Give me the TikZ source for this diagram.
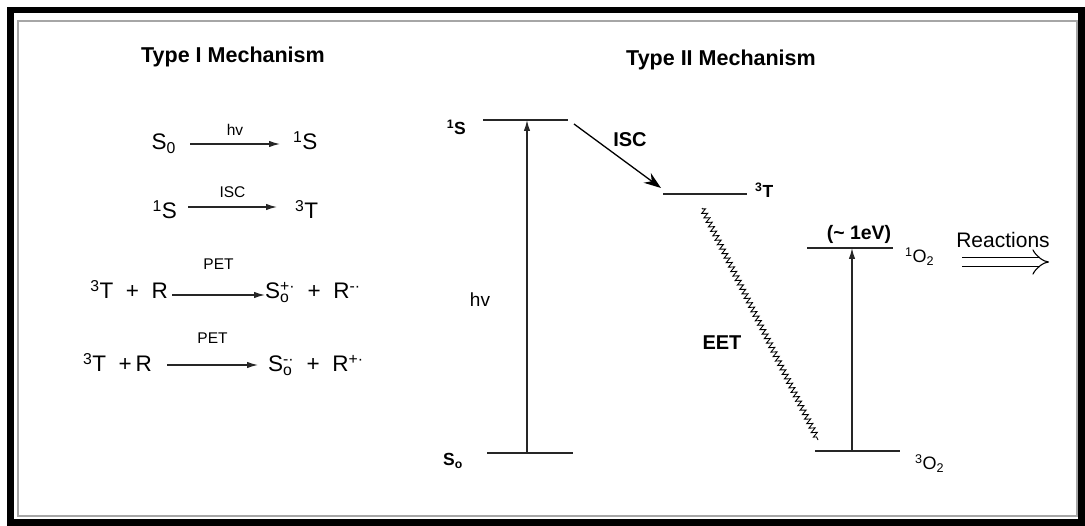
\documentclass[tikz,border=0pt]{standalone}
\usepackage{fontspec}
\setmainfont{Liberation Sans}
\usetikzlibrary{arrows.meta,decorations.pathmorphing}
\begin{document}
\begin{tikzpicture}[x=1pt,y=-1pt,
  title/.style={font=\fontsize{21.5}{24}\selectfont\bfseries, inner sep=0},
  eq/.style={font=\fontsize{22.5}{26}\selectfont, inner sep=0},
  lbl/.style={font=\fontsize{15.5}{17}\selectfont, inner sep=0},
  lvlab/.style={font=\fontsize{17.5}{20}\selectfont\bfseries, inner sep=0},
  lvlabn/.style={font=\fontsize{18}{20}\selectfont, inner sep=0},
  lvl/.style={line width=1.2, draw=black!85},
  arr/.style={line width=1.3, draw=black!85, -{Latex[length=11,width=6.5]}},
  bigarr/.style={line width=1.3, draw=black, -{Stealth[length=17,width=12]}},
  bl/.style={font=\fontsize{20}{22}\selectfont\bfseries, inner sep=0}
]
\useasboundingbox (0,0) rectangle (1085,526);
% frame
\draw[line width=6.5] (10.5,10) rectangle (1081.5,522.5);
\draw[gray!70, line width=1.5] (18,21) rectangle (1077,516);

% titles
\node[title] (t1) at (233,57) {Type I Mechanism};
\node[title] (t2) at (721,60) {Type II Mechanism};

% ---- Type I equations
\node[eq, anchor=base east] (r1l) at (176,150) {S\textsubscript{0}};
\node[eq, anchor=base west] (r1r) at (293,150) {\textsuperscript{1}S};
\draw[arr] ([shift={(14,-6)}]r1l.base east) -- node[lbl, above=8pt] (l1) {hv} ([shift={(-13,-6)}]r1r.base west);

\node[eq, anchor=base east] (r2l) at (177,219) {\textsuperscript{1}S};
\node[eq, anchor=base west] (r2r) at (295,219) {\textsuperscript{3}T};
\draw[arr] ([shift={(11,-12)}]r2l.base east) -- node[lbl, above=9pt] (l2) {ISC} ([shift={(-18,-12)}]r2r.base west);

\node[eq, anchor=base east] (r3l) at (168,299) {\textsuperscript{3}T\ \ +\ \ R};
\node[eq, anchor=base west] (r3r) at (265,299) {S\rlap{\textsubscript{o}}\textsuperscript{+·}\ \ +\ \ R\textsuperscript{-·}};
\draw[arr] ([shift={(4,-4)}]r3l.base east) -- node[lbl, above=25pt] (l3) {PET} ([shift={(0,-4)}]r3r.base west);

\node[eq, anchor=base east] (r4l) at (152,372) {\textsuperscript{3}T\ \ +\,R};
\node[eq, anchor=base west] (r4r) at (268,372) {S\rlap{\textsubscript{o}}\textsuperscript{-·}\ \ +\ \ R\textsuperscript{+·}};
\draw[arr] ([shift={(15,-7)}]r4l.base east) -- node[lbl, above=21pt] (l4) {PET} ([shift={(-10,-7)}]r4r.base west);

% ---- Type II diagram
\coordinate (S1a) at (483,120); \coordinate (S1b) at (568,120);
\coordinate (S0a) at (487,453); \coordinate (S0b) at (573,453);
\coordinate (T3a) at (663,194); \coordinate (T3b) at (747,194);
\coordinate (O1a) at (807,248); \coordinate (O1b) at (893,248);
\coordinate (O3a) at (815,451); \coordinate (O3b) at (900,451);
\draw[lvl] (S1a) -- (S1b);
\draw[lvl] (S0a) -- (S0b);
\draw[lvl] (T3a) -- (T3b);
\draw[lvl] (O1a) -- (O1b);
\draw[lvl] (O3a) -- (O3b);

\node[lvlab, anchor=base east] (S1l) at (466,135) {\textsuperscript{1}S};
\node[lvlab, anchor=base west] (S0l) at (443,466) {S\textsubscript{o}};
\node[lvlab, anchor=base west] (T3l) at (755,198) {\textsuperscript{3}T};
\node[lvlabn, anchor=base west] (O1l) at (905,263) {\textsuperscript{1}O\textsubscript{2}};
\node[lvlabn, anchor=base west] (O3l) at (915,470) {\textsuperscript{3}O\textsubscript{2}};

\coordinate (hvb) at (527,453); \coordinate (hvt) at (527,120);
\draw[arr] (hvb) -- (hvt);
\node[font=\fontsize{19}{20}\selectfont, inner sep=0] (hvlab) at (480,300) {hv};

\coordinate (iscs) at (574,124); \coordinate (isce) at (661,188);
\draw[bigarr] (iscs) -- (isce);
\node[bl] (isclab) at (630,140) {ISC};

\coordinate (eets) at (702,208); \coordinate (eete) at (818,440);
\draw[line width=0.9, decorate, decoration={zigzag, segment length=5, amplitude=2.8, pre length=1, post length=1}] (eets) -- (eete);
\node[bl] (eetlab) at (722,343) {EET};

\coordinate (o2b) at (852,451); \coordinate (o2t) at (852,248);
\draw[arr] (o2b) -- (o2t);
\node[font=\fontsize{19.5}{20}\selectfont\bfseries, inner sep=0] (evlab) at (859,234) {(\textasciitilde\ 1eV)};

\node[font=\fontsize{21}{22}\selectfont, inner sep=0] (reac) at (1003,240) {Reactions};
\coordinate (ra) at (962,262); \coordinate (rb) at (1049,262);
\draw[double, double distance=8, line width=1.1, -{Implies}] (ra) -- (rb);
\end{tikzpicture}
\end{document}
